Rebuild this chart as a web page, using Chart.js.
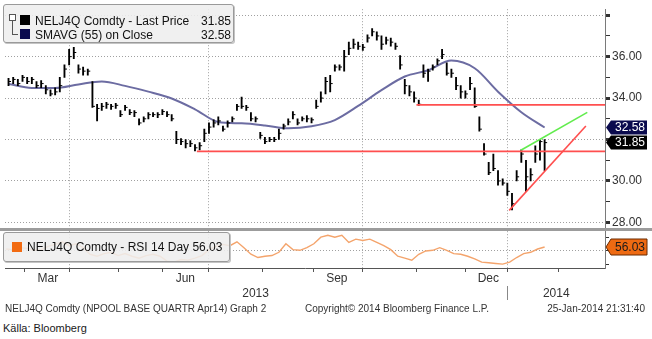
<!DOCTYPE html>
<html>
<head>
<meta charset="utf-8">
<script src="https://cdn.jsdelivr.net/npm/chart.js@4.4.0/dist/chart.umd.min.js"></script>
<style>
  body { margin: 0; background: #fff; font-family: 'Liberation Sans', Arial, sans-serif; }
  #wrap { position: relative; width: 652px; height: 339px; overflow: hidden; }
  #chart { position: absolute; left: 0; top: 0; }
  .box { position: absolute; box-sizing: border-box; background: rgba(238,238,238,0.88); border: 1px solid #9a9a9a; border-radius: 3px; box-shadow: 1px 1px 0 #c4c4c4; }
  .txt { position: absolute; font-size: 12px; line-height: 14px; color: #111; white-space: nowrap; }
  .sw { position: absolute; width: 10px; height: 10px; }
  .foot { position: absolute; top: 303px; font-size: 10px; line-height: 12px; color: #333; white-space: nowrap; }
</style>
</head>
<body>
<div id="wrap">
  <canvas id="chart" width="652" height="305"></canvas>

  <!-- legenda główna -->
  <div class="box" style="left:3px;top:4px;width:231px;height:39px"></div>
  <div style="position:absolute;left:9px;top:14px;width:5px;height:5px;border:1px solid #555;background:#fff"></div>
  <div style="position:absolute;left:12px;top:21px;width:5px;height:13px;border-left:1px solid #555;border-bottom:1px solid #555"></div>
  <div class="sw" style="left:20px;top:15px;background:#000"></div>
  <div class="txt" style="left:35px;top:14px">NELJ4Q Comdty - Last Price</div>
  <div class="txt" id="lastVal" style="right:421px;top:14px"></div>
  <div class="sw" style="left:20px;top:29px;background:#0b0b4e"></div>
  <div class="txt" style="left:35px;top:28px">SMAVG (55) on Close</div>
  <div class="txt" id="smaVal" style="right:421px;top:28px"></div>

  <!-- legenda RSI -->
  <div class="box" style="left:3px;top:232px;width:227px;height:30px"></div>
  <div class="sw" style="left:12px;top:242px;background:#f26b12"></div>
  <div class="txt" id="rsiLabel" style="left:27px;top:240px"></div>

  <div class="foot" style="left:5px">NELJ4Q Comdty (NPOOL BASE QUARTR Apr14) Graph 2</div>
  <div class="foot" style="left:305px">Copyright© 2014 Bloomberg Finance L.P.</div>
  <div class="foot" style="right:7px">25-Jan-2014 21:31:40</div>
  <div style="position:absolute;left:3px;top:321px;font-size:11px;line-height:14px;color:#1a1a1a">Källa: Bloomberg</div>
</div>

<script>
// Oś X: dni handlowe liczone od 1 marca 2013 (0 = 1 Mar 2013)
const barStart = -7, barStep = 2;
const highs = [
  34.95, 35.0, 34.9, 35.1, 35.0, 35.0, 34.8, 34.85, 34.6, 34.4,
  34.5, 35.0, 35.6, 36.35, 36.45, 35.6, 35.5, 35.4, 34.8, 33.7,
  33.75, 33.8, 33.7, 33.75, 33.4, 33.65, 33.45, 33.4, 33.0, 33.1,
  33.3, 33.3, 33.3, 33.45, 33.35, 33.2, 32.4, 32.05, 32.0, 31.95,
  31.75, 31.85, 32.5, 32.8, 32.95, 33.1, 32.65, 32.9, 33.1, 33.7,
  34.05, 33.65, 33.3, 33.1, 32.35, 32.1, 32.1, 32.1, 32.5, 32.75,
  33.0, 33.35, 33.0, 33.1, 33.15, 33.05, 33.9, 34.3, 35.0, 35.1,
  35.6, 35.6, 36.3, 36.7, 36.85, 36.7, 36.6, 37.05, 37.35, 37.2,
  37.0, 36.95, 36.9, 36.65, 36.05, 34.9, 34.6, 34.3, 33.9, 35.6,
  35.4, 35.6, 35.9, 36.35, 35.7, 35.4, 35.0, 34.6, 34.35, 35.0,
  34.5, 33.1, 31.8, 30.9, 31.3, 30.5, 30.1, 29.9, 29.4, 30.5,
  31.5, 31.0, 30.6, 31.7, 32.0, 32.0
];
const lows = [
  34.6, 34.7, 34.6, 34.8, 34.7, 34.7, 34.5, 34.5, 34.2, 34.1,
  34.15, 34.3, 35.0, 35.6, 35.9, 35.2, 35.1, 35.1, 33.55, 32.9,
  33.4, 33.5, 33.45, 33.5, 33.1, 33.4, 33.2, 33.1, 32.7, 32.85,
  33.0, 33.1, 33.05, 33.2, 33.1, 32.9, 31.8, 31.75, 31.6, 31.65,
  31.45, 31.5, 31.9, 32.3, 32.6, 32.7, 32.4, 32.6, 32.85, 33.4,
  33.5, 33.4, 32.9, 32.85, 32.05, 31.8, 31.9, 31.9, 32.0, 32.5,
  32.7, 33.0, 32.7, 32.9, 32.85, 32.8, 33.5, 33.8, 34.2, 34.3,
  35.3, 35.35, 35.3, 36.1, 36.4, 36.35, 36.3, 36.7, 37.0, 36.8,
  36.35, 36.6, 36.5, 36.35, 35.4, 34.2, 34.1, 33.8, 33.65, 35.0,
  34.8, 35.35, 35.6, 35.9, 35.1, 35.0, 34.4, 34.0, 34.0, 34.4,
  33.55, 32.4, 31.25, 30.3, 30.5, 29.8, 29.8, 29.3, 28.6, 30.0,
  30.9, 29.5, 30.0, 30.9, 31.0, 30.5
];
const closes = [
  34.8, 34.9, 34.7, 35.0, 34.8, 34.9, 34.6, 34.7, 34.4, 34.2,
  34.3, 34.6, 35.4, 36.0, 36.2, 35.4, 35.3, 35.3, 33.6, 33.5,
  33.6, 33.7, 33.6, 33.65, 33.2, 33.55, 33.3, 33.3, 32.8, 33.0,
  33.2, 33.2, 33.2, 33.35, 33.2, 33.0, 32.0, 31.9, 31.8, 31.8,
  31.6, 31.7, 32.3, 32.6, 32.8, 32.9, 32.5, 32.8, 33.0, 33.6,
  33.6, 33.55, 33.0, 33.0, 32.2, 31.9, 32.0, 32.0, 32.3, 32.65,
  32.85, 33.2, 32.8, 33.0, 33.0, 32.95, 33.6, 34.0, 34.8, 34.7,
  35.5, 35.5, 36.0, 36.4, 36.6, 36.5, 36.45, 36.9, 37.2, 37.0,
  36.6, 36.8, 36.7, 36.5, 35.6, 34.6, 34.3, 34.0, 33.7, 35.2,
  35.3, 35.5, 35.8, 36.1, 35.2, 35.2, 34.6, 34.3, 34.2, 34.7,
  33.6, 32.5, 31.3, 30.4, 30.6, 30.0, 29.9, 29.5, 28.9, 30.2,
  31.3, 30.2, 30.3, 31.3, 31.9, 31.85
];

// SMAVG(55)
const smaStart = -7, smaStep = 10;
const smaVals = [
  34.68, 34.49, 34.49, 34.66, 34.80, 34.59, 34.31, 33.98, 33.46, 32.85,
  32.78, 32.68, 32.54, 32.64, 32.94, 33.62, 34.38, 35.04, 35.34, 35.81,
  35.44, 34.31, 33.32, 32.58
];

// RSI 14
const rsiStart = -8, rsiStep = 3;
const rsiVals = [
  53, 52, 55, 54, 51, 52, 57, 60, 64, 58,
  61, 55, 45, 42, 46, 48, 43, 46, 42, 39,
  43, 45, 42, 34.5, 33, 37, 36, 39, 43, 52,
  57, 60, 58, 64, 55, 45, 40, 42, 43, 48,
  61, 52, 51, 55, 61, 71, 74, 71, 74, 63,
  68, 66, 68, 63, 58, 52, 42, 39, 36, 45,
  50, 51, 55, 51, 46, 45, 42, 38, 33, 32,
  31, 30, 33, 40, 46, 48, 53, 56.03
];

// linie trendu: [dzień od, cena od, dzień do, cena do]
const redLines = [[73.8, 31.43, 249, 31.43], [168, 33.67, 249, 33.67], [207.8, 28.58, 240.7, 32.65]];
const greenLines = [[212.8, 31.48, 241.3, 33.31]];

// osie
const monthStarts = [0, 19, 40, 59, 79, 102, 124, 145, 168, 189, 207, 229];
const monthNames = ['Mar', '', '', 'Jun', '', '', 'Sep', '', '', 'Dec', '', ''];
const quarterStarts = [19, 79, 145, 207];
const yearTicks = [99, 207, 228];
const yearLabels = ['2013', '', '2014'];
const priceTicks = [28, 29, 30, 31, 32, 33, 34, 35, 36, 37, 38];
const priceLabels = ['28.00', '', '30.00', '', '', '', '34.00', '', '36.00', '', ''];
const rsiTicks = [30, 50, 70];

const dayMin = -8.51, dayMax = 248.9;

const days = (start, step, n) => Array.from({ length: n }, (_, i) => start + i * step);
const barDays = days(barStart, barStep, closes.length);
const smaDays = days(smaStart, smaStep, smaVals.length);
const rsiDays = days(rsiStart, rsiStep, rsiVals.length);

const lastClose = closes[closes.length - 1];
const lastSma = smaVals[smaVals.length - 1];
const lastRsi = rsiVals[rsiVals.length - 1];

document.getElementById('lastVal').textContent = lastClose.toFixed(2);
document.getElementById('smaVal').textContent = lastSma.toFixed(2);
document.getElementById('rsiLabel').textContent = 'NELJ4Q Comdty - RSI 14 Day ' + lastRsi.toFixed(2);

const valueTags = [
  { axis: 'y', value: lastSma, fill: '#0b0b4e', text: '#fff', h: 14 },
  { axis: 'y', value: lastClose, fill: '#000', text: '#fff', h: 14 },
  { axis: 'yR', value: lastRsi, fill: '#ee6a12', text: '#1a1a1a', stroke: '#6a2a00', h: 16 }
];

const segment = (l, color) => ({
  type: 'line',
  data: [{ x: l[0], y: l[1] }, { x: l[2], y: l[3] }],
  borderColor: color,
  borderWidth: 1.6,
  pointRadius: 0,
  yAxisID: 'y',
  order: 0
});

// pasek oddzielający panele + etykiety wartości na osi
const panelPlugin = {
  id: 'panel',
  afterDraw(chart) {
    const ctx = chart.ctx;
    const right = chart.chartArea.right;
    ctx.save();
    ctx.fillStyle = '#9c9c9c';
    ctx.fillRect(0, 228, chart.width, 3);
    valueTags.forEach(t => {
      const y = chart.scales[t.axis].getPixelForValue(t.value);
      const h = t.h / 2;
      ctx.beginPath();
      ctx.moveTo(right + 1, y);
      ctx.lineTo(right + 6, y - h);
      ctx.lineTo(right + 42, y - h);
      ctx.lineTo(right + 42, y + h);
      ctx.lineTo(right + 6, y + h);
      ctx.closePath();
      ctx.fillStyle = t.fill;
      ctx.fill();
      if (t.stroke) { ctx.strokeStyle = t.stroke; ctx.lineWidth = 1; ctx.stroke(); }
      ctx.fillStyle = t.text;
      ctx.font = "12px 'Liberation Sans', Arial, sans-serif";
      ctx.textAlign = 'right';
      ctx.textBaseline = 'middle';
      ctx.fillText(t.value.toFixed(2), right + 40, y + 0.5);
    });
    ctx.restore();
  }
};

Chart.defaults.font.family = "'Liberation Sans', Arial, sans-serif";
Chart.defaults.font.size = 12;
Chart.defaults.color = '#333';

new Chart(document.getElementById('chart'), {
  type: 'bar',
  data: {
    datasets: [
      ...redLines.map(l => segment(l, '#ff4f4f')),
      ...greenLines.map(l => segment(l, '#62ec4e')),
      {
        type: 'line',
        data: barDays.map((d, i) => ({ x: d, y: closes[i] })),
        showLine: false,
        pointStyle: 'dash',
        pointRadius: 2.5,
        pointBorderWidth: 1,
        pointBorderColor: '#000',
        yAxisID: 'y',
        order: 1
      },
      {
        type: 'bar',
        data: barDays.map((d, i) => ({ x: d, y: [lows[i], highs[i]] })),
        backgroundColor: '#000',
        barThickness: 1.2,
        yAxisID: 'y',
        order: 2
      },
      {
        type: 'line',
        data: smaDays.map((d, i) => ({ x: d, y: smaVals[i] })),
        borderColor: '#6c6ca2',
        borderWidth: 2,
        pointRadius: 0,
        cubicInterpolationMode: 'monotone',
        yAxisID: 'y',
        order: 3
      },
      {
        type: 'line',
        data: rsiDays.map((d, i) => ({ x: d, y: rsiVals[i] })),
        borderColor: '#f4a46c',
        borderWidth: 1.4,
        pointRadius: 0,
        yAxisID: 'yR',
        order: 4
      }
    ]
  },
  options: {
    responsive: false,
    animation: false,
    events: [],
    layout: { padding: { top: 2, left: 0, right: 0, bottom: 0 } },
    plugins: { legend: { display: false }, tooltip: { enabled: false } },
    scales: {
      x: {
        type: 'linear',
        position: 'bottom',
        min: dayMin,
        max: dayMax,
        offset: false,
        weight: 0,
        afterBuildTicks: s => { s.ticks = monthStarts.map(v => ({ value: v })); },
        afterFit: s => { s.height = 18; },
        grid: {
          offset: false,
          color: c => quarterStarts.includes(c.tick && c.tick.value) ? '#a0a0a0' : 'rgba(0,0,0,0)',
          tickColor: '#555',
          tickLength: 4
        },
        border: { color: '#555', dash: [1, 2] },
        ticks: {
          autoSkip: false,
          maxRotation: 0,
          padding: -1,
          labelOffset: 23,
          callback: (v, i) => monthNames[i]
        }
      },
      xy: {
        type: 'linear',
        position: 'bottom',
        min: dayMin,
        max: dayMax,
        offset: false,
        weight: 1,
        afterBuildTicks: s => { s.ticks = yearTicks.map(v => ({ value: v })); },
        afterFit: s => { s.height = 19; },
        grid: {
          offset: false,
          drawOnChartArea: false,
          tickLength: 14,
          tickColor: c => (c.tick && c.tick.value === 207) ? '#888' : 'rgba(0,0,0,0)'
        },
        border: { display: false },
        ticks: {
          autoSkip: false,
          maxRotation: 0,
          padding: -14,
          callback: (v, i) => yearLabels[i]
        }
      },
      y: {
        type: 'linear',
        position: 'right',
        stack: 'panels',
        stackWeight: 227,
        min: 27.63,
        max: 38.29,
        afterBuildTicks: s => { s.ticks = priceTicks.map(v => ({ value: v })); },
        afterFit: s => { s.width = 47; },
        grid: {
          color: c => (c.tick && c.tick.value % 2 === 0) ? '#a0a0a0' : 'rgba(0,0,0,0)',
          tickColor: '#333',
          tickLength: 5,
          tickWidth: c => (c.tick && c.tick.value % 2 === 0) ? 3 : 1
        },
        border: { color: '#7a7a7a', dash: [1, 2] },
        ticks: {
          autoSkip: false,
          padding: 2,
          color: '#333',
          callback: (v, i) => priceLabels[i]
        }
      },
      yR: {
        type: 'linear',
        position: 'right',
        stack: 'panels',
        stackWeight: 39,
        min: 24.07,
        max: 81.85,
        afterBuildTicks: s => { s.ticks = rsiTicks.map(v => ({ value: v })); },
        afterFit: s => { s.width = 47; },
        grid: {
          color: c => (c.tick && c.tick.value === 50) ? '#a0a0a0' : 'rgba(0,0,0,0)',
          tickColor: '#333',
          tickLength: 4
        },
        border: { color: '#7a7a7a', dash: [1, 2] },
        ticks: { autoSkip: false, padding: 2, callback: () => '' }
      }
    }
  },
  plugins: [panelPlugin]
});
</script>
</body>
</html>
